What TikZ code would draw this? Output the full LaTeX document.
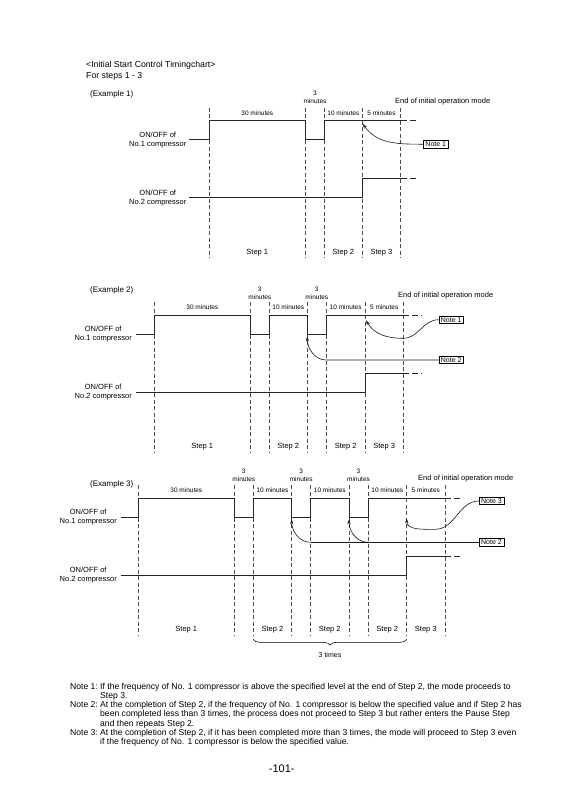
\documentclass[tikz,border=0pt]{standalone}
\usepackage{fontspec}
\setmainfont{Liberation Sans}
\usetikzlibrary{arrows.meta,decorations.pathreplacing}

\begin{document}
\begin{tikzpicture}[x=1pt,y=-1pt,
        wave/.style={line width=0.65pt,black!85},
        tail/.style={wave,dash pattern=on 6pt off 3pt},
        guide/.style={line width=0.45pt,black!70,dash pattern=on 4pt off 2.5pt},
        head/.style={font=\fontsize{8.7}{10}\selectfont,inner sep=0pt,anchor=west},
        lbl/.style={font=\fontsize{7.5}{9}\selectfont,align=center,inner sep=0pt},
        dur/.style={font=\fontsize{6.5}{8}\selectfont,align=center,inner sep=0pt},
        notebox/.style={draw,line width=0.45pt,font=\fontsize{7}{8}\selectfont,inner xsep=2pt,inner ysep=1.2pt},
        notetxt/.style={font=\fontsize{8.6}{9.2}\selectfont,align=left,inner sep=0pt,anchor=base west},
        pointer/.style={line width=0.6pt,black!90,-{Stealth[length=5pt,width=3.2pt]}}]
    \useasboundingbox (0,0) rectangle (569,804);
    %% heading
    \node[head] (title) at (86,65) {<Initial Start Control Timingchart>};
    \node[head] (sub) at (86,76) {For steps 1 - 3};

    %% Example 1
    \begin{scope}[shift={(0,120.7)}]
        \node[lbl,anchor=west,font=\fontsize{8}{9}\selectfont] (ex1) at (90,-26.7) {(Example 1)};
        \foreach \x in {209,305.7,324.3,362.3,400.7}
            \draw[guide] (\x,-13) -- (\x,137);
        %% compressors
        \draw[wave] (189.3,19) -- (209,19) -- (209,0) -- (305.7,0) -- (305.7,19) -- (324.3,19) -- (324.3,0) -- (400.7,0);
        \draw[tail] (400.7,0) -- (418,0);
        \draw[wave] (189.3,77) -- (362.3,77) -- (362.3,58) -- (400.7,58);
        \draw[tail] (400.7,58) -- (418,58);
        \node[lbl,anchor=east] (onA1) at (186.5,19) {ON/OFF of\\No.1 compressor};
        \node[lbl,anchor=east] (onA2) at (186.5,77) {ON/OFF of\\No.2 compressor};
        %% times
        \node[dur] (tA1) at (257.3,-8) {30 minutes};
        \node[dur] (tA2) at (315,-23) {3\\minutes};
        \node[dur] (tA3) at (343.3,-8) {10 minutes};
        \node[dur] (tA4) at (381.5,-8) {5 minutes};
        \node[lbl,anchor=west] (endA) at (395,-18.7) {End of initial operation mode};
        %% steps
        \node[lbl] (sA1) at (257.3,131.5) {Step 1};
        \node[lbl] (sA2) at (343.3,131.5) {Step 2};
        \node[lbl] (sA3) at (381.5,131.5) {Step 3};
        %% notes
        \node[notebox] (noteA1) at (435.8,23.5) {Note 1};
        \coordinate (tipA1) at (362.7,3);
        \draw[pointer] (noteA1.west) to[out=180,in=-55] (tipA1);
    \end{scope}

    %% Example 2
    \begin{scope}[shift={(0,315.3)}]
        \node[lbl,anchor=west,font=\fontsize{8}{9}\selectfont] (ex2) at (90,-25.3) {(Example 2)};
        \foreach \x in {154.3,250.3,269.3,307.3,326.3,365,403.3}
            \draw[guide] (\x,-13) -- (\x,137);
        %% compressors
        \draw[wave] (136,19) -- (154.3,19) -- (154.3,0) -- (250.3,0) -- (250.3,19) -- (269.3,19) -- (269.3,0) -- (307.3,0) -- (307.3,19) -- (326.3,19) -- (326.3,0) -- (403.3,0);
        \draw[tail] (403.3,0) -- (421.7,0);
        \draw[wave] (136,77) -- (365,77) -- (365,58) -- (403.3,58);
        \draw[tail] (403.3,58) -- (421.7,58);
        \node[lbl,anchor=east] (onB1) at (132,19) {ON/OFF of\\No.1 compressor};
        \node[lbl,anchor=east] (onB2) at (132,77) {ON/OFF of\\No.2 compressor};
        %% times
        \node[dur] (tB1) at (202.3,-8) {30 minutes};
        \node[dur] (tB2) at (259.8,-22) {3\\minutes};
        \node[dur] (tB3) at (288.3,-8) {10 minutes};
        \node[dur] (tB4) at (316.8,-22) {3\\minutes};
        \node[dur] (tB5) at (345.7,-8) {10 minutes};
        \node[dur] (tB6) at (384.2,-8) {5 minutes};
        \node[lbl,anchor=west] (endB) at (398,-19.3) {End of initial operation mode};
        %% steps
        \node[lbl] (sB1) at (202.3,131.5) {Step 1};
        \node[lbl] (sB2) at (288.3,131.5) {Step 2};
        \node[lbl] (sB3) at (345.7,131.5) {Step 2};
        \node[lbl] (sB4) at (384.2,131.5) {Step 3};
        %% notes
        \node[notebox] (noteB1) at (451.2,4.4) {Note 1};
        \node[notebox] (noteB2) at (451.2,44.7) {Note 2};
        \coordinate (tipB1) at (366,5);
        \coordinate (lowB1) at (403,23);
        \coordinate (tipB2) at (307.3,21);
        \coordinate (cornerB2) at (326.3,44.7);
        \draw[pointer] (noteB1.west) to[out=180,in=0] (lowB1) to[out=180,in=-60] (tipB1);
        \draw[pointer] (noteB2.west) -- (cornerB2) to[out=180,in=-90] (tipB2);
    \end{scope}

    %% Example 3
    \begin{scope}[shift={(0,498.3)}]
        \node[lbl,anchor=west,font=\fontsize{8}{9}\selectfont] (ex3) at (90,-14.3) {(Example 3)};
        \foreach \x in {138.3,234.3,253.3,291.7,310.7,349,368,406.7,445}
            \draw[guide] (\x,-13) -- (\x,137);
        %% compressors
        \draw[wave] (121,19) -- (138.3,19) -- (138.3,0) -- (234.3,0) -- (234.3,19) -- (253.3,19) -- (253.3,0) -- (291.7,0) -- (291.7,19) -- (310.7,19) -- (310.7,0) -- (349,0) -- (349,19) -- (368,19) -- (368,0) -- (445,0);
        \draw[tail] (445,0) -- (463,0);
        \draw[wave] (121,77) -- (406.7,77) -- (406.7,58) -- (445,58);
        \draw[tail] (445,58) -- (463,58);
        \node[lbl,anchor=east] (onC1) at (117,19) {ON/OFF of\\No.1 compressor};
        \node[lbl,anchor=east] (onC2) at (117,77) {ON/OFF of\\No.2 compressor};
        %% times
        \node[dur] (tC1) at (186.3,-8) {30 minutes};
        \node[dur] (tC2) at (243.8,-23.5) {3\\minutes};
        \node[dur] (tC3) at (272.5,-8) {10 minutes};
        \node[dur] (tC4) at (301.2,-23.5) {3\\minutes};
        \node[dur] (tC5) at (329.8,-8) {10 minutes};
        \node[dur] (tC6) at (358.5,-23.5) {3\\minutes};
        \node[dur] (tC7) at (387.3,-8) {10 minutes};
        \node[dur] (tC8) at (425.8,-8) {5 minutes};
        \node[lbl,anchor=west] (endC) at (418,-20) {End of initial operation mode};
        %% steps
        \node[lbl] (sC1) at (186.3,131.7) {Step 1};
        \node[lbl] (sC2) at (272.5,131.7) {Step 2};
        \node[lbl] (sC3) at (329.8,131.7) {Step 2};
        \node[lbl] (sC4) at (387.3,131.7) {Step 2};
        \node[lbl] (sC5) at (425.8,131.7) {Step 3};
        \coordinate (braceL) at (253.3,141);
        \coordinate (braceR) at (406.7,141);
        \draw[line width=0.55pt,decorate,decoration={brace,mirror,amplitude=6pt}] (braceL) -- (braceR);
        \node[lbl,font=\fontsize{7}{8}\selectfont] (times) at (330,157) {3 times};
        %% notes
        \node[notebox] (noteC3) at (491.5,2.7) {Note 3};
        \node[notebox] (noteC2) at (491.5,44) {Note 2};
        \coordinate (tipC3) at (406.7,20);
        \coordinate (lowC3) at (435,31);
        \coordinate (tipC2a) at (291.7,21);
        \coordinate (tipC2b) at (349,21);
        \coordinate (cornerC2a) at (310.7,44);
        \coordinate (cornerC2b) at (368,44);
        \draw[pointer] (noteC3.west) to[out=180,in=0] (lowC3) to[out=180,in=-90] (tipC3);
        \draw[line width=0.6pt,black!90] (noteC2.west) -- (cornerC2a);
        \draw[pointer] (cornerC2a) to[out=180,in=-90] (tipC2a);
        \draw[pointer] (cornerC2b) to[out=180,in=-90] (tipC2b);
    \end{scope}

    %% notes text (base = last line)
    \node[notetxt] (txt1) at (70,698.5) {\makebox[30pt][l]{Note 1:}If the frequency of No. 1 compressor is above the specified level at the end of Step 2, the mode proceeds to\\\hspace*{30pt}Step 3.};
    \node[notetxt] (txt2) at (70,726) {\makebox[30pt][l]{Note 2:}At the completion of Step 2, if the frequency of No. 1 compressor is below the specified value and if Step 2 has\\\hspace*{30pt}been completed less than 3 times, the process does not proceed to Step 3 but rather enters the Pause Step\\\hspace*{30pt}and then repeats Step 2.};
    \node[notetxt] (txt3) at (70,744.5) {\makebox[30pt][l]{Note 3:}At the completion of Step 2, if it has been completed more than 3 times, the mode will proceed to Step 3 even\\\hspace*{30pt}if the frequency of No. 1 compressor is below the specified value.};
    \node[font=\fontsize{11}{13}\selectfont] (page) at (281.7,768.3) {-101-};
\end{tikzpicture}
\end{document}
